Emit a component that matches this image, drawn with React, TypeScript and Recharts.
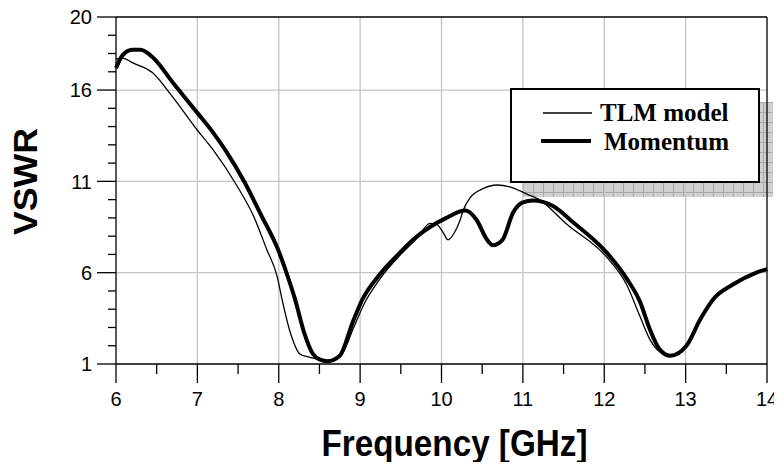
import React from "react";
import {
  LineChart,
  Line,
  XAxis,
  YAxis,
  CartesianGrid,
  ReferenceLine,
  Legend,
  Label,
} from "recharts";

// TLM model (thin line)
const tlmFreq = [
  6.0, 6.08, 6.2, 6.45, 6.7, 7.0, 7.19, 7.48, 7.69, 7.85, 7.98, 8.04, 8.14,
  8.26, 8.35, 8.5, 8.6, 8.75, 8.93, 9.05, 9.25, 9.5, 9.7, 9.86, 9.94, 10.02,
  10.08, 10.16, 10.23, 10.27, 10.35, 10.51, 10.68, 10.84, 11.05, 11.2, 11.54,
  12.03, 12.28, 12.44, 12.56, 12.74, 12.85, 13.01, 13.18, 13.34, 13.58, 13.87,
  14.0,
];
const tlmVswr = [
  17.7, 17.75, 17.5, 16.95, 15.6, 13.8, 12.75, 10.8, 9.1, 7.3, 5.8, 4.55, 2.75,
  1.55, 1.4, 1.25, 1.2, 1.4, 3.1, 4.3, 5.7, 7.0, 7.9, 8.7, 8.65, 8.2, 7.8, 8.2,
  8.9, 9.45, 10.1, 10.6, 10.8, 10.7, 10.3, 10.0, 8.65, 6.85, 5.3, 3.6, 2.35,
  1.55, 1.5, 2.0, 3.4, 4.5, 5.35, 6.0, 6.2,
];

// Momentum (thick line)
const momFreq = [
  6.0, 6.08, 6.2, 6.3, 6.45, 6.7, 7.0, 7.18, 7.36, 7.58, 7.79, 7.99, 8.11,
  8.2, 8.31, 8.42, 8.5, 8.6, 8.75, 8.91, 9.03, 9.24, 9.49, 9.65, 10.06, 10.29,
  10.43, 10.56, 10.63, 10.75, 10.88, 11.0, 11.12, 11.37, 11.62, 12.03, 12.28,
  12.44, 12.56, 12.68, 12.81, 13.01, 13.18, 13.34, 13.58, 13.87, 14.0,
];
const momVswr = [
  17.2, 17.9, 18.2, 18.2, 17.8, 16.4, 14.75, 13.75, 12.6, 10.95, 9.1, 7.28,
  5.8, 4.55, 2.75, 1.55, 1.25, 1.15, 1.45, 3.3, 4.55, 5.9, 7.1, 7.8, 9.0, 9.4,
  8.9, 7.8, 7.5, 7.8, 9.3, 9.85, 9.95, 9.65, 8.75, 7.1, 5.65, 4.4, 2.9, 1.8,
  1.45, 2.0, 3.45, 4.55, 5.35, 6.0, 6.2,
];

const xTicks = [
  6, 6.5, 7, 7.5, 8, 8.5, 9, 9.5, 10, 10.5, 11, 11.5, 12, 12.5, 13, 13.5, 14,
];
const xLabels = [6, 7, 8, 9, 10, 11, 12, 13, 14];
const yTicks = [
  1, 2, 3, 4, 5, 6, 7, 8, 9, 10, 11, 12, 13, 14, 15, 16, 17, 18, 19, 20,
];
const yLabels = [1, 6, 11, 16, 20];

const tlmData = tlmFreq.map((f, i) => ({ f, v: tlmVswr[i] }));
const momData = momFreq.map((f, i) => ({ f, v: momVswr[i] }));

const sans = '"Liberation Sans", Arial, Helvetica, sans-serif';
const serif = '"Liberation Serif", "Times New Roman", serif';

const XTick = (props: any) => {
  const { x, y, payload } = props;
  const major = xLabels.includes(payload.value);
  return (
    <g>
      <line
        x1={x}
        x2={x}
        y1={y}
        y2={y + (major ? 19 : 10)}
        stroke="#000"
        strokeWidth={1.3}
      />
      {major && (
        <text
          x={x}
          y={y + 42}
          textAnchor="middle"
          fontFamily={sans}
          fontSize={20}
          fill="#000"
        >
          {payload.value}
        </text>
      )}
    </g>
  );
};

const YTick = (props: any) => {
  const { x, y, payload } = props;
  const major = yLabels.includes(payload.value);
  return (
    <g>
      <line
        x1={x}
        x2={x - (major ? 19 : 8)}
        y1={y}
        y2={y}
        stroke="#000"
        strokeWidth={1.3}
      />
      {major && (
        <text
          x={x - 24}
          y={y}
          dy="0.36em"
          textAnchor="end"
          fontFamily={sans}
          fontSize={20}
          fill="#000"
        >
          {payload.value}
        </text>
      )}
    </g>
  );
};

const XTitle = ({ viewBox }: any) => (
  <text
    x={viewBox.x + viewBox.width / 2 + 13}
    y={viewBox.y + 92}
    textAnchor="middle"
    fontFamily={sans}
    fontWeight="bold"
    fontSize={37}
    textLength={266}
    lengthAdjust="spacingAndGlyphs"
    fill="#000"
  >
    Frequency [GHz]
  </text>
);

const YTitle = ({ viewBox }: any) => {
  const x = viewBox.x + 37;
  const y = viewBox.y + viewBox.height / 2 - 9;
  return (
    <text
      x={x}
      y={y}
      transform={`rotate(-90, ${x}, ${y})`}
      textAnchor="middle"
      fontFamily={sans}
      fontWeight="bold"
      fontSize={34}
      textLength={107}
      lengthAdjust="spacingAndGlyphs"
      fill="#000"
    >
      VSWR
    </text>
  );
};

const LegendBox = () => (
  <div
    style={{
      width: 250,
      height: 95,
      boxSizing: "border-box",
      border: "2.7px solid #000",
      background: "#fff",
    }}
  >
    <svg width={245} height={90} style={{ display: "block" }}>
      <line x1={31} x2={80} y1={23} y2={23} stroke="#000" strokeWidth={1.3} />
      <text x={88} y={31} fontFamily={serif} fontWeight="bold" fontSize={25}>
        TLM model
      </text>
      <line x1={29} x2={79} y1={51} y2={51} stroke="#000" strokeWidth={4} />
      <text x={92} y={60} fontFamily={serif} fontWeight="bold" fontSize={25}>
        Momentum
      </text>
    </svg>
  </div>
);

export default function App() {
  return (
    <div
      style={{
        position: "relative",
        width: 782,
        height: 470,
        margin: "-8px 0 -8px -8px",
      }}
    >
      <div
        style={{
          position: "absolute",
          left: 523,
          top: 102,
          width: 250,
          height: 95,
          backgroundColor: "#d0d0d0",
          backgroundImage:
            "linear-gradient(#a8a8a8 1px, transparent 1px), linear-gradient(90deg, #a8a8a8 1px, transparent 1px)",
          backgroundSize: "10px 10px",
        }}
      />
      <LineChart
        width={782}
        height={470}
        margin={{ top: 17, right: 15, left: 0, bottom: 0 }}
        style={{ position: "relative" }}
      >
        <CartesianGrid
          horizontalValues={[6, 11, 16]}
          verticalValues={[7, 8, 9, 10, 11, 12, 13]}
          stroke="#c4c4c4"
          strokeWidth={1.3}
        />
        <XAxis
          dataKey="f"
          type="number"
          domain={[6, 14]}
          ticks={xTicks}
          interval={0}
          height={106}
          tickLine={false}
          tickSize={0}
          tickMargin={0}
          tick={<XTick />}
          axisLine={{ stroke: "#000", strokeWidth: 1.3 }}
        >
          <Label content={<XTitle />} />
        </XAxis>
        <YAxis
          type="number"
          domain={[1, 20]}
          ticks={yTicks}
          interval={0}
          width={116}
          tickLine={false}
          tickSize={0}
          tickMargin={0}
          tick={<YTick />}
          axisLine={{ stroke: "#000", strokeWidth: 1.3 }}
        >
          <Label content={<YTitle />} />
        </YAxis>
        <ReferenceLine y={20} stroke="#000" strokeWidth={1.3} />
        <ReferenceLine x={14} stroke="#000" strokeWidth={1.3} />
        <Line
          data={tlmData}
          dataKey="v"
          type="monotone"
          stroke="#000"
          strokeWidth={1.3}
          dot={false}
          activeDot={false}
          isAnimationActive={false}
        />
        <Line
          data={momData}
          dataKey="v"
          type="monotone"
          stroke="#000"
          strokeWidth={4}
          strokeLinejoin="round"
          dot={false}
          activeDot={false}
          isAnimationActive={false}
        />
        <Legend
          layout="horizontal"
          verticalAlign="middle"
          align="center"
          content={<LegendBox />}
          wrapperStyle={{
            position: "absolute",
            left: 510,
            top: 88,
            width: 250,
            height: 95,
          }}
        />
      </LineChart>
    </div>
  );
}
